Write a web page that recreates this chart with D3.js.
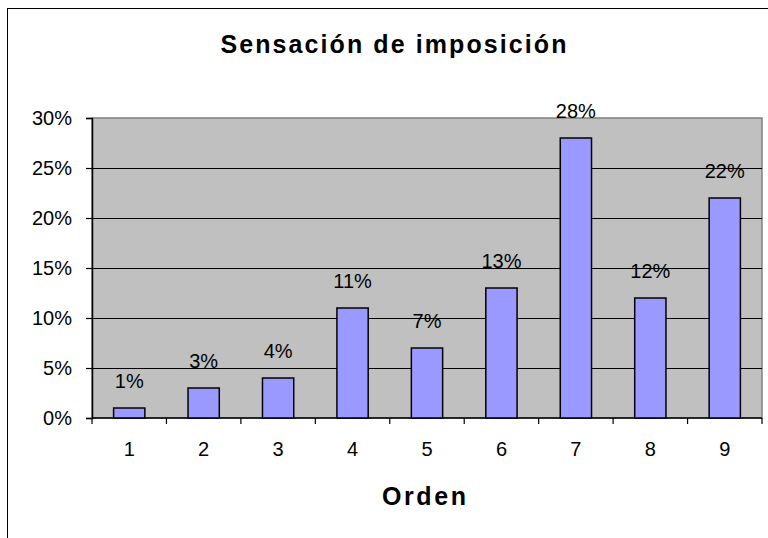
<!DOCTYPE html>
<html>
<head>
<meta charset="utf-8">
<script src="https://cdn.jsdelivr.net/npm/d3@7"></script>
<style>
  html, body { margin: 0; padding: 0; background: #fff; }
  svg { display: block; font-family: Arial, "Liberation Sans", sans-serif; }
</style>
</head>
<body>
<svg id="chart" width="768" height="538"></svg>
<script>
// datos del gráfico
const categories = ["1", "2", "3", "4", "5", "6", "7", "8", "9"];
const values = [1, 3, 4, 11, 7, 13, 28, 12, 22];
const yTicks = [0, 5, 10, 15, 20, 25, 30];
const chartTitle = "Sensación de imposición";
const xTitle = "Orden";

const svg = d3.select("#chart");

// marco exterior (sale de la ventana por la derecha y abajo)
svg.append("rect")
  .attr("x", 7.5).attr("y", 8.5)
  .attr("width", 820).attr("height", 600)
  .attr("fill", "none")
  .attr("stroke", "#000")
  .attr("stroke-width", 1);

const plot = { left: 92, right: 762, top: 118, bottom: 418 };

const x = d3.scaleBand()
  .domain(categories)
  .range([plot.left, plot.right])
  .padding(0);

const y = d3.scaleLinear()
  .domain([0, 30])
  .range([plot.bottom, plot.top]);

// fondo gris del área de trazado
svg.append("rect")
  .attr("x", plot.left)
  .attr("y", plot.top)
  .attr("width", plot.right - plot.left)
  .attr("height", plot.bottom - plot.top)
  .attr("fill", "#c0c0c0")
  .attr("stroke", "#808080")
  .attr("stroke-width", 1.5);

// líneas de cuadrícula
svg.append("g")
  .selectAll("line")
  .data(yTicks.filter(d => d > 0 && d < 30))
  .join("line")
  .attr("x1", plot.left)
  .attr("x2", plot.right)
  .attr("y1", d => Math.round(y(d)) + 0.5)
  .attr("y2", d => Math.round(y(d)) + 0.5)
  .attr("stroke", "#000")
  .attr("stroke-width", 1);

// eje Y
const yAxis = svg.append("g")
  .attr("transform", `translate(${plot.left},0)`)
  .call(d3.axisLeft(y).tickValues(yTicks).tickSize(6).tickPadding(14)
    .tickFormat(d => d + "%"));
yAxis.select(".domain").attr("stroke", "#000").attr("stroke-width", 1.5);
yAxis.selectAll(".tick line").attr("stroke", "#000").attr("stroke-width", 1.2);
yAxis.selectAll(".tick text")
  .attr("font-size", 20)
  .attr("font-family", "Arial, 'Liberation Sans', sans-serif")
  .attr("fill", "#000")
  .attr("dy", "0.3em");

// eje X con marcas entre categorías
const xAxis = svg.append("g")
  .attr("transform", `translate(0,${plot.bottom})`);
xAxis.append("line")
  .attr("x1", plot.left).attr("x2", plot.right)
  .attr("stroke", "#000").attr("stroke-width", 1.5);
xAxis.selectAll(".xtick")
  .data(categories)
  .join("line")
  .attr("class", "xtick")
  .attr("x1", d => x(d) + x.bandwidth())
  .attr("x2", d => x(d) + x.bandwidth())
  .attr("y1", 0).attr("y2", 6)
  .attr("stroke", "#000").attr("stroke-width", 1.2);
xAxis.append("line")
  .attr("x1", plot.left).attr("x2", plot.left)
  .attr("y1", 0).attr("y2", 6)
  .attr("stroke", "#000").attr("stroke-width", 1.2);
xAxis.selectAll(".xlabel")
  .data(categories)
  .join("text")
  .attr("class", "xlabel")
  .attr("x", d => x(d) + x.bandwidth() / 2)
  .attr("y", 38)
  .attr("text-anchor", "middle")
  .attr("font-size", 20)
  .attr("fill", "#000")
  .text(d => d);

// barras
const barW = x.bandwidth() * 0.42;
svg.append("g")
  .selectAll("rect")
  .data(values)
  .join("rect")
  .attr("x", (d, i) => x(categories[i]) + (x.bandwidth() - barW) / 2)
  .attr("y", d => y(d))
  .attr("width", barW)
  .attr("height", d => y(0) - y(d))
  .attr("fill", "#9999ff")
  .attr("stroke", "#000")
  .attr("stroke-width", 1.5);

// etiquetas de valores
svg.append("g")
  .selectAll("text")
  .data(values)
  .join("text")
  .attr("x", (d, i) => x(categories[i]) + x.bandwidth() / 2)
  .attr("y", d => y(d) - 20)
  .attr("text-anchor", "middle")
  .attr("font-size", 20)
  .attr("fill", "#000")
  .text(d => d + "%");

// títulos
svg.append("text")
  .attr("x", 220.5)
  .attr("y", 53)
  .attr("font-size", 25)
  .attr("font-weight", "bold")
  .attr("textLength", 346)
  .attr("lengthAdjust", "spacing")
  .attr("fill", "#000")
  .text(chartTitle);

svg.append("text")
  .attr("x", 382)
  .attr("y", 505)
  .attr("font-size", 25)
  .attr("font-weight", "bold")
  .attr("textLength", 84)
  .attr("lengthAdjust", "spacing")
  .attr("fill", "#000")
  .text(xTitle);
</script>
</body>
</html>
